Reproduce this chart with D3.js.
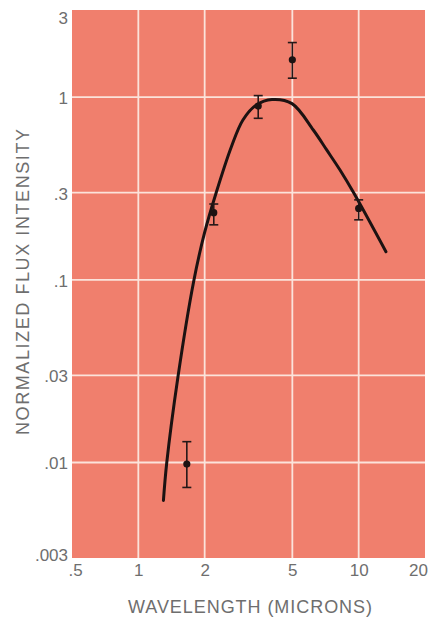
<!DOCTYPE html>
<html>
<head>
<meta charset="utf-8">
<script src="https://cdn.jsdelivr.net/npm/d3@7"></script>
<style>
  html, body { margin: 0; padding: 0; background: #fff; }
  svg { display: block; }
  .tick text, .title { font-family: "Liberation Sans", Arial, Helvetica, sans-serif; fill: #6e6e6e; }
</style>
</head>
<body>
<svg id="chart" width="428" height="622"></svg>
<script>
// Wavelength ticks (microns) and flux ticks
const xTicks = [0.5, 1, 2, 5, 10, 20];
const xTickLabels = [".5", "1", "2", "5", "10", "20"];
const yTicks = [0.003, 0.01, 0.03, 0.1, 0.3, 1, 3];
const yTickLabels = [".003", ".01", ".03", ".1", ".3", "1", "3"];
const xGrid = [1, 2, 5, 10];
const yGrid = [0.01, 0.03, 0.1, 0.3, 1];

// Measured points with error bars
const obsWavelength = [1.66, 2.2, 3.5, 5, 10];
const obsFlux = [0.0098, 0.233, 0.894, 1.60, 0.246];
const obsHigh = [0.013, 0.26, 1.02, 1.99, 0.274];
const obsLow = [0.0073, 0.20, 0.766, 1.27, 0.213];

// Model curve
const curveWavelength = [1.30, 1.345, 1.511, 1.782, 1.997, 2.252, 2.642, 2.983, 3.431, 4.043, 4.983, 6.225, 7.16, 8.23, 9.52, 13.3];
const curveFlux = [0.0062, 0.0099, 0.0291, 0.0977, 0.1805, 0.2976, 0.533, 0.750, 0.906, 0.971, 0.922, 0.661, 0.514, 0.399, 0.2976, 0.1425];

const svg = d3.select("#chart");
const plotLeft = 72, plotRight = 425, plotTop = 10, plotBottom = 558;

const x = d3.scaleLog().domain([0.5, 20]).range([plotLeft, plotRight]);
const y = d3.scaleLog().domain([0.003, 3]).range([plotBottom, plotTop]);

// plot background
svg.append("rect")
  .attr("x", plotLeft).attr("y", plotTop)
  .attr("width", plotRight - plotLeft).attr("height", plotBottom - plotTop)
  .attr("fill", "#f07f6d");

// grid
const grid = svg.append("g").attr("stroke", "#fbe3db").attr("stroke-width", 1.8);
grid.selectAll("line.v").data(xGrid).join("line")
  .attr("x1", d => x(d)).attr("x2", d => x(d))
  .attr("y1", plotTop).attr("y2", plotBottom);
grid.selectAll("line.h").data(yGrid).join("line")
  .attr("x1", plotLeft).attr("x2", plotRight)
  .attr("y1", d => y(d)).attr("y2", d => y(d));

// axes
const xAxis = d3.axisBottom(x)
  .tickValues(xTicks)
  .tickFormat((d, i) => xTickLabels[i])
  .tickSize(0).tickPadding(6);
const gx = svg.append("g").attr("transform", `translate(0,${plotBottom})`).call(xAxis);
gx.select(".domain").remove();
gx.selectAll(".tick text").attr("font-size", 17)
  .attr("dx", (d, i) => i === 0 ? 3 : (i === xTicks.length - 1 ? -7 : 0));

const yAxis = d3.axisLeft(y)
  .tickValues(yTicks)
  .tickFormat((d, i) => yTickLabels[i])
  .tickSize(0).tickPadding(4);
const gy = svg.append("g").attr("transform", `translate(${plotLeft},0)`).call(yAxis);
gy.select(".domain").remove();
gy.selectAll(".tick text").attr("font-size", 17)
  .attr("y", d => d === 3 ? 8 : (d === 0.003 ? -3 : 1));

// axis titles
svg.append("text").attr("class", "title")
  .attr("x", 250).attr("y", 613)
  .attr("text-anchor", "middle")
  .attr("font-size", 18)
  .attr("textLength", 244).attr("lengthAdjust", "spacing")
  .text("WAVELENGTH (MICRONS)");

svg.append("text").attr("class", "title")
  .attr("transform", "translate(29,282) rotate(-90)")
  .attr("text-anchor", "middle")
  .attr("font-size", 18)
  .attr("textLength", 306).attr("lengthAdjust", "spacing")
  .text("NORMALIZED FLUX INTENSITY");

// model curve
const line = d3.line()
  .x(d => x(d[0])).y(d => y(d[1]))
  .curve(d3.curveCatmullRom.alpha(0.5));
svg.append("path")
  .datum(curveWavelength.map((w, i) => [w, curveFlux[i]]))
  .attr("d", line)
  .attr("fill", "none")
  .attr("stroke", "#1c1212")
  .attr("stroke-width", 3)
  .attr("stroke-linecap", "round");

// error bars and points
const obs = obsWavelength.map((w, i) => ({ w, f: obsFlux[i], hi: obsHigh[i], lo: obsLow[i] }));
const eb = svg.append("g").attr("stroke", "#241818").attr("stroke-width", 1.6);
eb.selectAll("line.bar").data(obs).join("line")
  .attr("x1", d => x(d.w)).attr("x2", d => x(d.w))
  .attr("y1", d => y(d.hi)).attr("y2", d => y(d.lo));
eb.selectAll("line.capHi").data(obs).join("line")
  .attr("x1", d => x(d.w) - 4.5).attr("x2", d => x(d.w) + 4.5)
  .attr("y1", d => y(d.hi)).attr("y2", d => y(d.hi));
eb.selectAll("line.capLo").data(obs).join("line")
  .attr("x1", d => x(d.w) - 4.5).attr("x2", d => x(d.w) + 4.5)
  .attr("y1", d => y(d.lo)).attr("y2", d => y(d.lo));
svg.append("g").selectAll("circle").data(obs).join("circle")
  .attr("cx", d => x(d.w)).attr("cy", d => y(d.f))
  .attr("r", 3.6)
  .attr("fill", "#1c1212");
</script>
</body>
</html>
